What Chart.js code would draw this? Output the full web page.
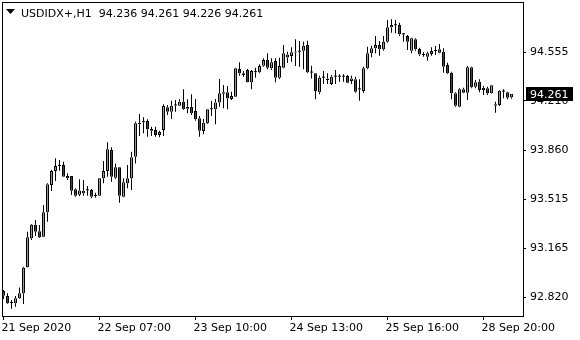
<!DOCTYPE html>
<html>
<head>
<meta charset="utf-8">
<title>USDIDX+ H1</title>
<script src="https://cdn.jsdelivr.net/npm/chart.js"></script>
<style>
  html, body { margin: 0; padding: 0; background: #ffffff; }
  canvas { display: block; }
</style>
</head>
<body>
<canvas id="chart" width="580" height="340"></canvas>
<script>
// H1 bars, oldest first
const symbolName = "USDIDX+,H1";

const opens = [
  92.864, 92.829, 92.779, 92.777, 92.812, 92.848, 93.032, 93.237, 93.334, 93.287,
  93.249, 93.422, 93.615, 93.714, 93.749, 93.757, 93.679, 93.679, 93.584, 93.546,
  93.556, 93.577, 93.579, 93.535, 93.539, 93.662, 93.714, 93.863, 93.667, 93.740,
  93.532, 93.627, 93.662, 93.815, 94.045, 94.060, 94.068, 94.011, 94.005, 93.969,
  94.005, 94.165, 94.134, 94.178, 94.176, 94.205, 94.155, 94.167, 94.139, 94.087,
  93.997, 94.052, 94.151, 94.151, 94.200, 94.262, 94.271, 94.224, 94.240, 94.436,
  94.406, 94.429, 94.342, 94.414, 94.413, 94.460, 94.500, 94.441, 94.493, 94.375,
  94.446, 94.540, 94.528, 94.553, 94.559, 94.566, 94.606, 94.413, 94.406, 94.271,
  94.375, 94.370, 94.330, 94.382, 94.384, 94.382, 94.387, 94.351, 94.363, 94.292,
  94.281, 94.441, 94.548, 94.583, 94.606, 94.576, 94.630, 94.732, 94.748, 94.748,
  94.684, 94.670, 94.566, 94.647, 94.578, 94.540, 94.523, 94.543, 94.564, 94.576,
  94.559, 94.465, 94.410, 94.264, 94.169, 94.293, 94.269, 94.448, 94.311, 94.346,
  94.304, 94.300, 94.264, 94.186, 94.181, 94.276, 94.271, 94.236
];
const highs = [
  92.871, 92.848, 92.800, 92.829, 92.888, 93.036, 93.284, 93.339, 93.367, 93.332,
  93.473, 93.627, 93.721, 93.804, 93.792, 93.780, 93.698, 93.679, 93.591, 93.655,
  93.650, 93.608, 93.587, 93.560, 93.665, 93.785, 93.917, 93.882, 93.768, 93.742,
  93.662, 93.757, 93.851, 94.063, 94.118, 94.094, 94.080, 94.028, 94.028, 93.999,
  94.186, 94.181, 94.212, 94.217, 94.222, 94.293, 94.222, 94.257, 94.224, 94.104,
  94.082, 94.153, 94.210, 94.224, 94.366, 94.323, 94.316, 94.276, 94.446, 94.484,
  94.422, 94.436, 94.429, 94.446, 94.470, 94.512, 94.548, 94.512, 94.512, 94.516,
  94.606, 94.559, 94.590, 94.647, 94.635, 94.630, 94.637, 94.460, 94.408, 94.389,
  94.422, 94.406, 94.394, 94.429, 94.399, 94.399, 94.394, 94.389, 94.382, 94.363,
  94.453, 94.594, 94.601, 94.670, 94.635, 94.670, 94.783, 94.788, 94.783, 94.764,
  94.689, 94.677, 94.658, 94.654, 94.587, 94.555, 94.559, 94.590, 94.599, 94.613,
  94.583, 94.481, 94.417, 94.271, 94.300, 94.304, 94.458, 94.453, 94.358, 94.363,
  94.316, 94.311, 94.323, 94.205, 94.288, 94.293, 94.276, 94.261
];
const lows = [
  92.807, 92.772, 92.739, 92.753, 92.807, 92.772, 93.030, 93.225, 93.254, 93.239,
  93.244, 93.355, 93.572, 93.643, 93.716, 93.674, 93.650, 93.544, 93.532, 93.537,
  93.539, 93.539, 93.521, 93.525, 93.537, 93.627, 93.674, 93.638, 93.657, 93.489,
  93.528, 93.591, 93.579, 93.768, 93.962, 93.981, 93.957, 93.962, 93.957, 93.953,
  93.962, 94.111, 94.082, 94.134, 94.175, 94.146, 94.123, 94.111, 94.070, 93.957,
  93.974, 94.047, 94.104, 94.045, 94.169, 94.158, 94.151, 94.217, 94.238, 94.389,
  94.382, 94.340, 94.293, 94.375, 94.406, 94.453, 94.434, 94.429, 94.342, 94.366,
  94.441, 94.479, 94.488, 94.458, 94.453, 94.434, 94.406, 94.370, 94.222, 94.257,
  94.330, 94.330, 94.323, 94.330, 94.346, 94.346, 94.335, 94.330, 94.269, 94.212,
  94.269, 94.434, 94.519, 94.548, 94.531, 94.566, 94.623, 94.693, 94.689, 94.670,
  94.630, 94.571, 94.548, 94.566, 94.528, 94.523, 94.495, 94.531, 94.535, 94.548,
  94.410, 94.401, 94.222, 94.169, 94.165, 94.264, 94.217, 94.300, 94.300, 94.271,
  94.252, 94.252, 94.262, 94.127, 94.174, 94.229, 94.222, 94.226
];
const closes = [
  92.831, 92.777, 92.780, 92.812, 92.848, 93.029, 93.244, 93.334, 93.284, 93.244,
  93.422, 93.620, 93.714, 93.749, 93.757, 93.674, 93.662, 93.575, 93.539, 93.576,
  93.575, 93.579, 93.532, 93.544, 93.662, 93.714, 93.868, 93.674, 93.740, 93.539,
  93.634, 93.662, 93.811, 94.052, 94.056, 94.063, 94.009, 93.999, 93.969, 93.990,
  94.174, 94.134, 94.176, 94.181, 94.205, 94.151, 94.169, 94.123, 94.080, 93.999,
  94.056, 94.151, 94.153, 94.200, 94.264, 94.271, 94.229, 94.245, 94.441, 94.406,
  94.394, 94.342, 94.422, 94.417, 94.458, 94.500, 94.446, 94.484, 94.375, 94.458,
  94.548, 94.518, 94.555, 94.559, 94.561, 94.601, 94.413, 94.411, 94.281, 94.375,
  94.377, 94.358, 94.382, 94.384, 94.382, 94.384, 94.339, 94.370, 94.276, 94.295,
  94.441, 94.548, 94.583, 94.606, 94.576, 94.630, 94.732, 94.748, 94.746, 94.682,
  94.682, 94.630, 94.654, 94.576, 94.540, 94.535, 94.548, 94.564, 94.566, 94.552,
  94.453, 94.406, 94.264, 94.176, 94.293, 94.269, 94.448, 94.307, 94.342, 94.288,
  94.288, 94.264, 94.321, 94.176, 94.283, 94.278, 94.233, 94.261
];

// time axis labels sit on these bar numbers
const labelBars = [0, 24, 48, 72, 96, 120];
const labelTexts = ["21 Sep 2020", "22 Sep 07:00", "23 Sep 10:00", "24 Sep 13:00", "25 Sep 16:00", "28 Sep 20:00"];
const priceTicks = [92.820, 93.165, 93.515, 93.860, 94.210, 94.555];

const bullColor = "#00ff00";
const bearColor = "#dd0000";
const fontFamily = "'DejaVu Sans', Tahoma, sans-serif";

function isDoji(i) {
  return Math.abs(closes[i] - opens[i]) < 0.005;
}

function candleColor(i) {
  if (isDoji(i)) return "#000000";
  return closes[i] > opens[i] ? bullColor : bearColor;
}

// wicks are split above / below the body so they never cover its fill
const upperWicks = highs.map((h, i) => ({ x: i, y: [Math.max(opens[i], closes[i]), h] }));
const lowerWicks = lows.map((l, i) => ({ x: i, y: [l, Math.min(opens[i], closes[i])] }));
const bodyData = opens.map((o, i) => ({
  x: i,
  y: [Math.min(o, closes[i]), Math.max(o, closes[i])],
}));

// frame, header line and the last price box, MT4 style
const terminalDecor = {
  id: "terminalDecor",
  afterDraw(chart) {
    const ctx = chart.ctx;
    const area = chart.chartArea;
    const yScale = chart.scales.y;
    const last = opens.length - 1;

    ctx.save();
    ctx.strokeStyle = "#000000";
    ctx.lineWidth = 1;
    ctx.strokeRect(area.left + 0.5, area.top + 0.5, area.right - area.left, area.bottom - area.top);

    // header
    ctx.fillStyle = "#000000";
    ctx.beginPath();
    ctx.moveTo(6, 9);
    ctx.lineTo(15, 9);
    ctx.lineTo(10.5, 14);
    ctx.closePath();
    ctx.fill();

    const header = symbolName + "  " +
      [opens[last], highs[last], lows[last], closes[last]].map(v => v.toFixed(3)).join(" ");
    ctx.font = "11px " + fontFamily;
    ctx.textBaseline = "alphabetic";
    ctx.textAlign = "left";
    ctx.fillText(header, 21, 17);

    // bid box on the price scale
    const py = Math.round(yScale.getPixelForValue(closes[last]));
    ctx.fillRect(area.right + 3, py - 7, 47, 14);
    ctx.fillStyle = "#ffffff";
    ctx.textBaseline = "middle";
    ctx.fillText(closes[last].toFixed(3), area.right + 7, py + 1);
    ctx.restore();
  },
};

const tickFont = { family: fontFamily, size: 11 };

const wickStyle = {
  backgroundColor: "#000000",
  borderWidth: 0,
  barThickness: 1,
  minBarLength: 0,
  grouped: false,
  inflateAmount: 0,
  order: 2,
};

new Chart(document.getElementById("chart"), {
  type: "bar",
  data: {
    datasets: [
      { ...wickStyle, data: upperWicks },
      { ...wickStyle, data: lowerWicks },
      {
        data: bodyData,
        backgroundColor: (c) => candleColor(c.dataIndex),
        borderColor: "#000000",
        borderWidth: (c) => (isDoji(c.dataIndex) ? 0 : 1),
        borderSkipped: false,
        barThickness: 3,
        minBarLength: 1,
        grouped: false,
        inflateAmount: 0,
        order: 1,
      },
    ],
  },
  options: {
    responsive: false,
    animation: false,
    events: [],
    layout: { padding: { left: 2, top: 2, right: 0, bottom: 0 } },
    plugins: {
      legend: { display: false },
      tooltip: { enabled: false },
    },
    scales: {
      x: {
        type: "linear",
        offset: false,
        min: -0.375,
        max: 129.875,
        grid: { drawOnChartArea: false, drawTicks: true, tickLength: 4, color: "#000000", offset: false },
        border: { display: false },
        ticks: {
          color: "#000000",
          font: tickFont,
          align: "start",
          maxRotation: 0,
          autoSkip: false,
          padding: 2,
          labelOffset: -2,
          callback: (v) => labelTexts[labelBars.indexOf(v)],
        },
        afterBuildTicks: (s) => {
          s.ticks = labelBars.map((v) => ({ value: v }));
        },
        afterFit: (s) => {
          s.height = 24;
          s.paddingLeft = 0;
          s.paddingRight = 0;
        },
      },
      y: {
        position: "right",
        min: 92.687,
        max: 94.911,
        grid: { drawOnChartArea: false, drawTicks: true, tickLength: 3, color: "#000000" },
        border: { display: false },
        ticks: {
          color: "#000000",
          font: tickFont,
          padding: 4,
          callback: (v) => v.toFixed(3),
        },
        afterBuildTicks: (s) => {
          s.ticks = priceTicks.map((v) => ({ value: v }));
        },
        afterFit: (s) => {
          s.width = 57;
          s.paddingTop = 0;
          s.paddingBottom = 0;
        },
      },
    },
  },
  plugins: [terminalDecor],
});
</script>
</body>
</html>
